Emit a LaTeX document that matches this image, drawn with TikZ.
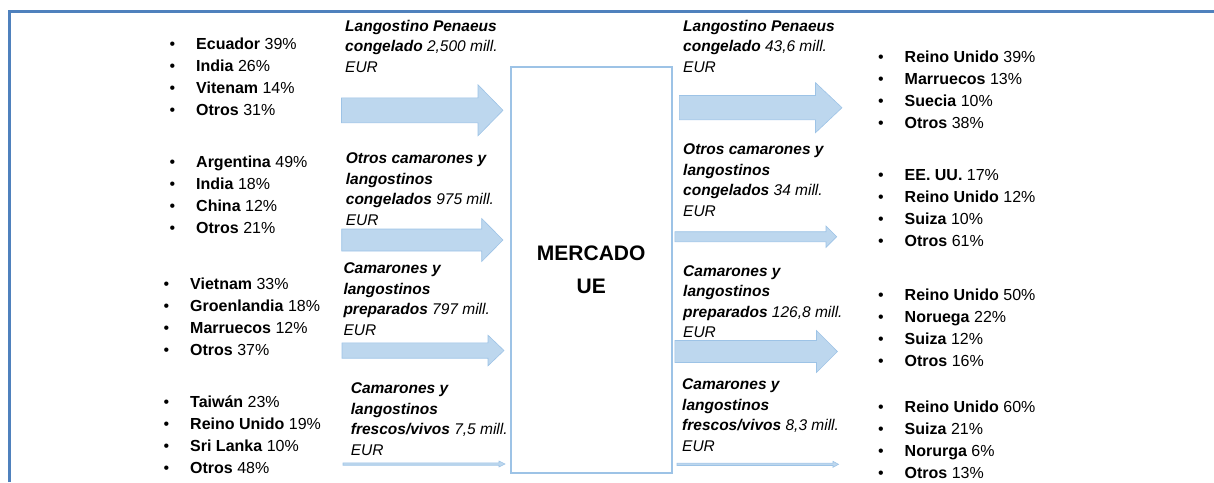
\documentclass[tikz,border=0pt]{standalone}
\usepackage{fontspec}
\setmainfont{Liberation Sans}

\definecolor{marco}{HTML}{4F81BD}
\definecolor{borde}{HTML}{9DC3E6}
\definecolor{relleno}{HTML}{BDD7EE}

% un pais de la lista con su porcentaje
\newcommand{\pais}[2]{\makebox[26.5pt][l]{\textbullet}\textbf{#1} #2}
% flecha ancha: x inicio, x cabeza, x punta, y, medio cuerpo, media cabeza
\newcommand{\flecha}[6]{%
\draw[flechabloque] (#1,#4-#5) -- (#2,#4-#5) -- (#2,#4-#6) -- (#3,#4)
 -- (#2,#4+#6) -- (#2,#4+#5) -- (#1,#4+#5) -- cycle;}

\tikzset{
  flechabloque/.style={draw=borde,fill=relleno,line width=0.6pt},
  lista/.style={anchor=north west,inner sep=0pt,align=left,
    font=\fontsize{16}{22}\selectfont},
  producto/.style={anchor=north west,inner sep=0pt,align=left,
    font=\fontsize{15.5}{20.5}\selectfont\itshape},
}

\begin{document}
\begin{tikzpicture}[x=1pt,y=-1pt]
\useasboundingbox (0,0) rectangle (1214,482);

% marco
\draw[marco,line width=3pt]
(9.5,482)
--
(9.5,11.5)
--
(1214,11.5);

% mercado
\draw[borde,line width=2pt] (510.7,66.5) rectangle (671.7,473.3);
\node[inner sep=0pt,align=center,font=\fontsize{21}{33}\selectfont\bfseries]
(mercado) at (591.2,270)
{MERCADO\\UE};

% origen de las importaciones
\node[lista] (orig1) at (169.5,37.4)
{\pais{Ecuador}{39\%}\\\pais{India}{26\%}\\\pais{Vitenam}{14\%}\\\pais{Otros}{31\%}};

\node[lista] (orig2) at (169.5,155.8)
{\pais{Argentina}{49\%}\\\pais{India}{18\%}\\\pais{China}{12\%}\\\pais{Otros}{21\%}};

\node[lista] (orig3) at (163.5,277.4)
{\pais{Vietnam}{33\%}\\\pais{Groenlandia}{18\%}\\\pais{Marruecos}{12\%}\\\pais{Otros}{37\%}};

\node[lista] (orig4) at (163.5,395.8)
{\pais{Taiwán}{23\%}\\\pais{Reino Unido}{19\%}\\\pais{Sri Lanka}{10\%}\\\pais{Otros}{48\%}};

% importaciones
\flecha{341.5}{478}{503}{110.3}{12.5}{25.5}
\node[producto] (imp1) at (345,20)
{\textbf{Langostino Penaeus}\\\textbf{congelado} 2,500 mill.\\EUR};

\flecha{341.7}{481.7}{503}{240}{11}{21.5}
\node[producto] (imp2) at (345.7,152.6)
{\textbf{Otros camarones y}\\\textbf{langostinos}\\\textbf{congelados} 975 mill.\\EUR};

\flecha{342}{488}{504}{350.5}{7.7}{15.3}
\node[producto] (imp3) at (343.3,262.6)
{\textbf{Camarones y}\\\textbf{langostinos}\\\textbf{preparados} 797 mill.\\EUR};

\flecha{343}{499}{505}{464}{1.2}{3}
\node[producto] (imp4) at (350.7,382.6)
{\textbf{Camarones y}\\\textbf{langostinos}\\\textbf{frescos/vivos} 7,5 mill.\\EUR};

% exportaciones
\flecha{679.4}{815.5}{842}{107.7}{12.2}{25}
\node[producto] (exp1) at (683,20)
{\textbf{Langostino Penaeus}\\\textbf{congelado} 43,6 mill.\\EUR};

\flecha{674.8}{826}{836.7}{236.7}{5}{10.7}
\node[producto] (exp2) at (683,143.6)
{\textbf{Otros camarones y}\\\textbf{langostinos}\\\textbf{congelados} 34 mill.\\EUR};

\flecha{674.8}{816.5}{837.4}{351.5}{11}{21}
\node[producto] (exp3) at (683,265)
{\textbf{Camarones y}\\\textbf{langostinos}\\\textbf{preparados} 126,8 mill.\\EUR};

\flecha{677}{833}{838.5}{464.3}{1.2}{3}
\node[producto] (exp4) at (682,378.6)
{\textbf{Camarones y}\\\textbf{langostinos}\\\textbf{frescos/vivos} 8,3 mill.\\EUR};

% destino de las exportaciones
\node[lista] (dest1) at (878,50.8)
{\pais{Reino Unido}{39\%}\\\pais{Marruecos}{13\%}\\\pais{Suecia}{10\%}\\\pais{Otros}{38\%}};

\node[lista] (dest2) at (878,169.1)
{\pais{EE. UU.}{17\%}\\\pais{Reino Unido}{12\%}\\\pais{Suiza}{10\%}\\\pais{Otros}{61\%}};

\node[lista] (dest3) at (878,289.1)
{\pais{Reino Unido}{50\%}\\\pais{Noruega}{22\%}\\\pais{Suiza}{12\%}\\\pais{Otros}{16\%}};

\node[lista] (dest4) at (878,400.8)
{\pais{Reino Unido}{60\%}\\\pais{Suiza}{21\%}\\\pais{Norurga}{6\%}\\\pais{Otros}{13\%}};

\end{tikzpicture}
\end{document}
